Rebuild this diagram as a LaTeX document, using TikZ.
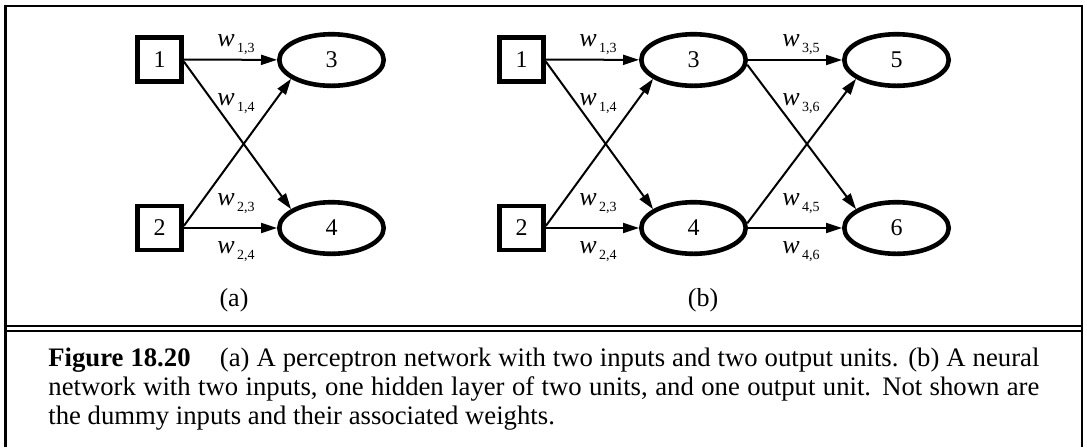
\documentclass[tikz,border=0pt]{standalone}
\usepackage{fontspec}
\setmainfont{Liberation Serif}
\usetikzlibrary{arrows.meta,shapes.geometric}
\tikzset{
  pcp input/.style={
    draw,line width=2.4pt,minimum size=22pt,inner sep=0pt,
    font=\fontsize{12}{14}\selectfont
  },
  pcp unit/.style={
    ellipse,draw,line width=2.3pt,minimum width=52.2pt,minimum height=25.8pt,
    inner sep=0pt,font=\fontsize{12}{14}\selectfont
  },
  pcp edge/.style={line width=1pt,-{Triangle[length=8pt,width=5pt]}},
  pcp weight/.style={anchor=base west,inner sep=0pt,font=\fontsize{13}{15}\selectfont},
  pcp tag/.style={inner sep=0pt,font=\fontsize{13}{15}\selectfont},
  pcp rule/.style={line width=1.2pt}
}
\newcommand{\wgt}[1]{\textit{w}\kern1.2pt\raisebox{-3.3pt}{\fontsize{7}{8}\selectfont #1}}

\begin{document}
\begin{tikzpicture}[x=0.5pt,y=-0.5pt]
  \useasboundingbox (0,0) rectangle (1087,447);
  % frame and the double rule above the caption
  \draw[pcp rule] (5.5,447) -- (5.5,6) -- (1082,6) -- (1082,447);
  \draw[pcp rule] (5.5,326) -- (1082,326);
  \draw[line width=0.9pt] (5.5,330.8) -- (1082,330.8);
  % (a) perceptron
  \node[pcp input] (a1) at (159.5,59.5) {1};
  \node[pcp input] (a2) at (159.5,228) {2};
  \node[pcp unit] (a3) at (331.5,60) {3};
  \node[pcp unit] (a4) at (331.5,228) {4};
  \draw[pcp edge] (a1) -- (a3);
  \draw[pcp edge] (a1.-5) -- (a4.155);
  \draw[pcp edge] (a2.5) -- (a3.205);
  \draw[pcp edge] (a2) -- (a4);
  \node[pcp weight] (aw13) at (217,46) {\wgt{1,3}};
  \node[pcp weight] (aw14) at (217,105) {\wgt{1,4}};
  \node[pcp weight] (aw23) at (217,205) {\wgt{2,3}};
  \node[pcp weight] (aw24) at (217,253) {\wgt{2,4}};
  \node[pcp tag] (atag) at (234,300) {(a)};
  % (b) one hidden layer
  \node[pcp input] (b1) at (521.5,59.5) {1};
  \node[pcp input] (b2) at (521.5,228) {2};
  \node[pcp unit] (b3) at (693.5,60) {3};
  \node[pcp unit] (b4) at (693.5,228) {4};
  \node[pcp unit] (b5) at (896.5,60) {5};
  \node[pcp unit] (b6) at (896.5,228) {6};
  \draw[pcp edge] (b1) -- (b3);
  \draw[pcp edge] (b1.-5) -- (b4.155);
  \draw[pcp edge] (b2.5) -- (b3.205);
  \draw[pcp edge] (b2) -- (b4);
  \draw[pcp edge] (b3) -- (b5);
  \draw[pcp edge] (b3.-5) -- (b6.155);
  \draw[pcp edge] (b4.5) -- (b5.205);
  \draw[pcp edge] (b4) -- (b6);
  \node[pcp weight] (bw13) at (579,46) {\wgt{1,3}};
  \node[pcp weight] (bw14) at (579,105) {\wgt{1,4}};
  \node[pcp weight] (bw23) at (579,205) {\wgt{2,3}};
  \node[pcp weight] (bw24) at (579,253) {\wgt{2,4}};
  \node[pcp weight] (bw35) at (782,46) {\wgt{3,5}};
  \node[pcp weight] (bw36) at (782,105) {\wgt{3,6}};
  \node[pcp weight] (bw45) at (782,205) {\wgt{4,5}};
  \node[pcp weight] (bw46) at (782,253) {\wgt{4,6}};
  \node[pcp tag] (btag) at (703,300) {(b)};
  % caption
  \node[anchor=base west,inner sep=0pt,text width=495.5pt,align=justify,
        font=\fontsize{13.35}{14.5}\selectfont] (cap) at (48,366)
    {\textbf{Figure 18.20}\hspace{1.1em}(a) A perceptron network with two inputs and two output units. (b) A neural\linebreak
     network with two inputs, one hidden layer of two units, and one output unit. Not shown are\linebreak
     the dummy inputs and their associated weights.};
\end{tikzpicture}
\end{document}
